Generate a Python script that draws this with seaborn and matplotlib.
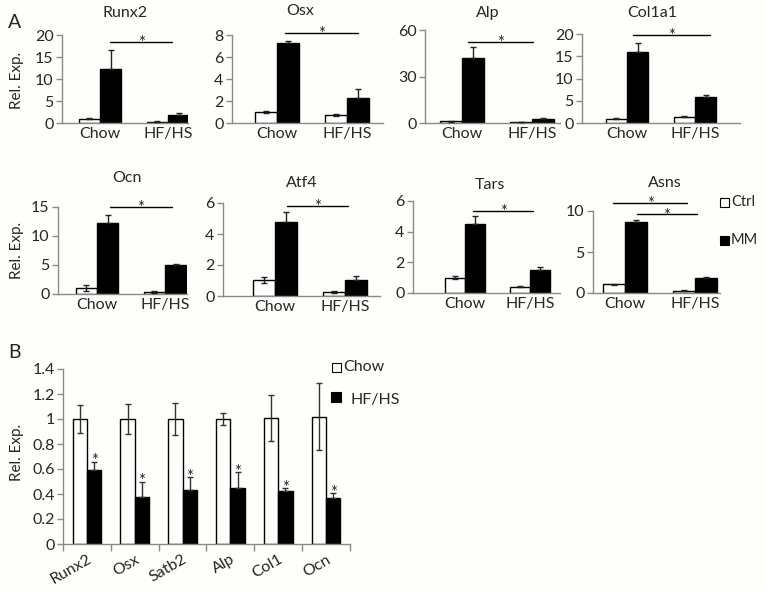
import matplotlib
matplotlib.use("Agg")
import matplotlib.pyplot as plt
from matplotlib.patches import Rectangle
import numpy as np
import pandas as pd
import seaborn as sns

sns.set_theme(style="white")
plt.rcParams["font.family"] = ["Lato", "DejaVu Sans"]

W, H = 766, 591
BG = "#fefffa"
AXC = "#8a8a8a"
ERRC = "#222222"

# ---------------- data ----------------
diets = ["Chow", "HF/HS"]
treats = ["Ctrl", "MM"]
genes_a = ["Runx2", "Osx", "Alp", "Col1a1", "Ocn", "Atf4", "Tars", "Asns"]
# each entry: [Chow, HF/HS]
ctrl_mean = [[1.0, 0.3], [1.0, 0.7], [1.0, 0.5], [1.0, 1.4],
             [1.0, 0.4], [1.05, 0.25], [1.0, 0.42], [1.05, 0.3]]
ctrl_sem = [[0.15, 0.05], [0.05, 0.1], [0.2, 0.1], [0.1, 0.1],
            [0.5, 0.15], [0.2, 0.05], [0.1, 0.05], [0.1, 0.05]]
mm_mean = [[12.3, 1.9], [7.3, 2.3], [42.0, 2.5], [16.0, 5.8],
           [12.3, 5.0], [4.8, 1.05], [4.5, 1.5], [8.6, 1.8]]
mm_sem = [[4.3, 0.3], [0.2, 0.75], [7.0, 0.8], [2.0, 0.4],
          [1.3, 0.15], [0.6, 0.25], [0.5, 0.2], [0.35, 0.15]]
y_max = [20, 8, 60, 20, 15, 6, 6, 10]
y_step = [5, 2, 30, 5, 5, 2, 2, 5]
# significance bars: (x_start, x_end, y) in data units
sig_lines = [[(0.15, 1.06, 18.5)], [(0.11, 1.16, 8.2)], [(0.09, 1.01, 52.5)],
             [(0.09, 1.22, 19.8)], [(0.19, 1.10, 15.0)], [(0.17, 1.04, 5.8)],
             [(0.12, 1.05, 5.35)], [(-0.17, 0.89, 11.0), (0.17, 1.03, 9.6)]]

genes_b = ["Runx2", "Osx", "Satb2", "Alp", "Col1", "Ocn"]
groups_b = ["Chow", "HF/HS"]
chow_mean = [1.0, 1.0, 1.0, 1.0, 1.01, 1.02]
chow_sem = [0.11, 0.12, 0.125, 0.045, 0.185, 0.27]
hfhs_mean = [0.59, 0.375, 0.435, 0.445, 0.425, 0.365]
hfhs_sem = [0.07, 0.125, 0.1, 0.13, 0.025, 0.04]

# ---------------- layout (pixels) ----------------
# (left, right, y_top, y_zero, chow_center, hf_center)
geom_a = [(62, 188, 35, 123, 100, 168), (232, 383, 35, 123, 277, 347),
          (425, 560, 30, 123, 462, 532), (582, 740, 34, 123, 627, 695),
          (58, 187, 207, 294, 97, 165), (223, 380, 203, 296, 275, 345),
          (413, 560, 201, 293, 465, 530), (593, 720, 211, 293, 625, 695)]
title_pos = [(125, 13), (300, 11), (488, 13), (652, 13),
             (127, 178), (302, 183), (490, 185), (665, 183)]

fig = plt.figure(figsize=(W / 100, H / 100), dpi=100, facecolor=BG)


def add_ax(L, R, top, zero):
    return fig.add_axes([L / W, 1 - zero / H, (R - L) / W, (zero - top) / H])


def style_ax(ax):
    ax.set_facecolor("none")
    for s in ["top", "right"]:
        ax.spines[s].set_visible(False)
    for s in ["left", "bottom"]:
        ax.spines[s].set_color(AXC)
        ax.spines[s].set_linewidth(1.0)
    ax.tick_params(axis="y", direction="out", length=4, width=1, color=AXC,
                   labelsize=11.5, pad=2, left=True)
    ax.set_xlabel("")
    ax.set_ylabel("")


def fmt(v):
    return f"{v:g}"


def star(ax, x, y, dy=-4.5, size=12):
    ax.annotate("*", xy=(x, y), xytext=(0, dy), textcoords="offset points",
                ha="center", va="baseline", fontsize=size,
                annotation_clip=False, zorder=7)


for i, g in enumerate(genes_a):
    L, R, top, zero, c0, c1 = geom_a[i]
    ax = add_ax(L, R, top, zero)
    df = pd.DataFrame({
        "diet": diets * 2,
        "treat": [treats[0]] * 2 + [treats[1]] * 2,
        "value": ctrl_mean[i] + mm_mean[i],
    })
    sns.barplot(data=df, x="diet", y="value", hue="treat", order=diets,
                hue_order=treats, palette={"Ctrl": "white", "MM": "black"},
                edgecolor="black", linewidth=1, width=0.62, saturation=1,
                errorbar=None, legend=False, ax=ax)
    errs = ctrl_sem[i] + mm_sem[i]
    bars = ax.patches[:4]
    for k, p in enumerate(bars):
        xc = p.get_x() + p.get_width() / 2
        h = p.get_height()
        if k < 2:
            yerr = [[errs[k]], [errs[k]]]
        else:
            yerr = [[0], [errs[k]]]
        ax.errorbar([xc], [h], yerr=yerr, fmt="none", ecolor=ERRC,
                    elinewidth=1, capsize=2.5, capthick=1, zorder=5)
    unit = c1 - c0
    ax.set_xlim((L - c0) / unit, (R - c0) / unit)
    ax.set_ylim(0, y_max[i])
    ticks = np.arange(0, y_max[i] + 1e-9, y_step[i])
    ax.set_yticks(ticks, labels=[fmt(t) for t in ticks])
    style_ax(ax)
    ax.set_xticks([0, 1], labels=diets)
    ax.tick_params(axis="x", length=0, labelsize=11.5, pad=3)
    for (x1, x2, y) in sig_lines[i]:
        ax.plot([x1, x2], [y, y], color="black", lw=1, clip_on=False, zorder=6)
        star(ax, (x1 + x2) / 2, y, dy=-4.5, size=12)
    tx, ty = title_pos[i]
    fig.text(tx / W, 1 - ty / H, g, ha="center", va="center", fontsize=11.5)

# y labels for panel A
fig.text(17 / W, 1 - 80 / H, "Rel. Exp.", rotation=90, ha="center",
         va="center", fontsize=11)
fig.text(17 / W, 1 - 250 / H, "Rel. Exp.", rotation=90, ha="center",
         va="center", fontsize=11)

# legend A
fig.patches.append(Rectangle((720 / W, 1 - 207 / H), 9 / W, 9 / H,
                             transform=fig.transFigure, facecolor="white",
                             edgecolor="black", lw=0.8))
fig.text(731 / W, 1 - 202 / H, "Ctrl", ha="left", va="center", fontsize=10.5)
fig.patches.append(Rectangle((720 / W, 1 - 245 / H), 9 / W, 9 / H,
                             transform=fig.transFigure, facecolor="black",
                             edgecolor="black", lw=0.8))
fig.text(731 / W, 1 - 240 / H, "MM", ha="left", va="center", fontsize=10.5)

# ---------------- panel B ----------------
axb = add_ax(63, 350, 369, 544)
dfb = pd.DataFrame({
    "gene": genes_b * 2,
    "group": [groups_b[0]] * 6 + [groups_b[1]] * 6,
    "value": chow_mean + hfhs_mean,
})
sns.barplot(data=dfb, x="gene", y="value", hue="group", order=genes_b,
            hue_order=groups_b, palette={"Chow": "white", "HF/HS": "black"},
            edgecolor="black", linewidth=1, width=0.6, saturation=1,
            errorbar=None, legend=False, ax=axb)
errs_b = chow_sem + hfhs_sem
for k, p in enumerate(axb.patches[:12]):
    xc = p.get_x() + p.get_width() / 2
    h = p.get_height()
    if k < 6:
        yerr = [[errs_b[k]], [errs_b[k]]]
    else:
        yerr = [[0], [errs_b[k]]]
    axb.errorbar([xc], [h], yerr=yerr, fmt="none", ecolor="#333333",
                 elinewidth=1, capsize=2.5, capthick=1, zorder=5)
    if k >= 6:
        star(axb, xc, h + errs_b[k], dy=-3.5, size=12)
axb.set_xlim(-0.5, 5.5)
axb.set_ylim(0, 1.4)
bt = np.round(np.arange(0, 1.41, 0.2), 1)
axb.set_yticks(bt, labels=[fmt(t) for t in bt])
style_ax(axb)
axb.set_xticks(np.arange(-0.5, 6, 1), labels=[""] * 7)
axb.set_xticks(np.arange(6), labels=genes_b, minor=True)
axb.tick_params(axis="x", which="major", direction="out", length=5, width=1,
                color=AXC, bottom=True)
axb.tick_params(axis="x", which="minor", length=0, labelsize=11.5, pad=6)
for lab in axb.get_xticklabels(minor=True):
    lab.set_rotation(30)
    lab.set_ha("right")
    lab.set_va("top")
    lab.set_rotation_mode("anchor")

fig.text(17 / W, 1 - 452 / H, "Rel. Exp.", rotation=90, ha="center",
         va="center", fontsize=11)

# legend B
fig.patches.append(Rectangle((332 / W, 1 - 372 / H), 9 / W, 9 / H,
                             transform=fig.transFigure, facecolor="white",
                             edgecolor="black", lw=0.8))
fig.text(343 / W, 1 - 367 / H, "Chow", ha="left", va="center", fontsize=11.5)
fig.patches.append(Rectangle((331 / W, 1 - 402 / H), 10 / W, 10 / H,
                             transform=fig.transFigure, facecolor="black",
                             edgecolor="black", lw=0.8))
fig.text(350 / W, 1 - 400 / H, "HF/HS", ha="left", va="center", fontsize=11.5)

# panel letters
fig.text(8 / W, 1 - 22 / H, "A", ha="left", va="center", fontsize=14)
fig.text(8 / W, 1 - 352 / H, "B", ha="left", va="center", fontsize=14)

fig.savefig("out.png", dpi=100, facecolor=BG)
